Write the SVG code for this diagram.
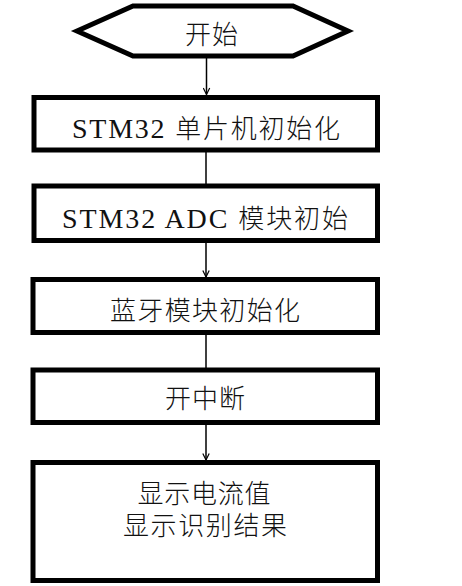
<svg xmlns="http://www.w3.org/2000/svg" width="462" height="586" viewBox="0 0 462 586">
<style>
.box{fill:#fff;stroke:#000;stroke-width:5}
.t{font-family:"Liberation Serif","Noto Sans CJK SC",serif;font-size:26px;fill:#111;text-anchor:middle;font-weight:300}
.l{font-size:28px;font-weight:400}
.c{stroke:#000;stroke-width:1.5;fill:none}
</style>
<defs>
<marker id="ah" viewBox="0 0 10 10" refX="9" refY="5" markerWidth="8" markerHeight="8" markerUnits="userSpaceOnUse" orient="auto">
<path d="M1,1 L9,5 L1,9" fill="none" stroke="#000" stroke-width="1.5"/>
</marker>
</defs>
<rect width="462" height="586" fill="#fff"/>
<g id="connectors">
<line class="c" x1="206.5" y1="58" x2="206.5" y2="94.5" marker-end="url(#ah)"/>
<line class="c" x1="206" y1="152" x2="206" y2="185"/>
<line class="c" x1="206" y1="243" x2="206" y2="277" marker-end="url(#ah)"/>
<line class="c" x1="206" y1="335" x2="206" y2="369"/>
<line class="c" x1="206" y1="425" x2="206" y2="460" marker-end="url(#ah)"/>
</g>
<g id="start">
<polygon class="box" points="77,31 133,6 293,6 348,31 293,56 133,56"/>
<text class="t" x="211.5" y="44" font-size="22" textLength="53">开始</text>
</g>
<g id="n1">
<rect class="box" x="34" y="97.5" width="343.5" height="52.5"/>
<text class="t" x="206" y="138" textLength="268"><tspan class="l">STM32 </tspan>单片机初始化</text>
</g>
<g id="n2">
<rect class="box" x="34" y="186" width="343.5" height="54.5"/>
<text class="t" x="205" y="228" textLength="286"><tspan class="l">STM32 ADC </tspan>模块初始</text>
</g>
<g id="n3">
<rect class="box" x="33" y="279.5" width="344.5" height="53"/>
<text class="t" x="205" y="320" textLength="190">蓝牙模块初始化</text>
</g>
<g id="n4">
<rect class="box" x="33" y="370" width="344.5" height="52.5"/>
<text class="t" x="205" y="408" textLength="80">开中断</text>
</g>
<g id="n5">
<rect class="box" x="33" y="462.5" width="344.5" height="118"/>
<text class="t" x="204" y="503" textLength="133">显示电流值</text>
<text class="t" x="205" y="535" textLength="164">显示识别结果</text>
</g>
</svg>
